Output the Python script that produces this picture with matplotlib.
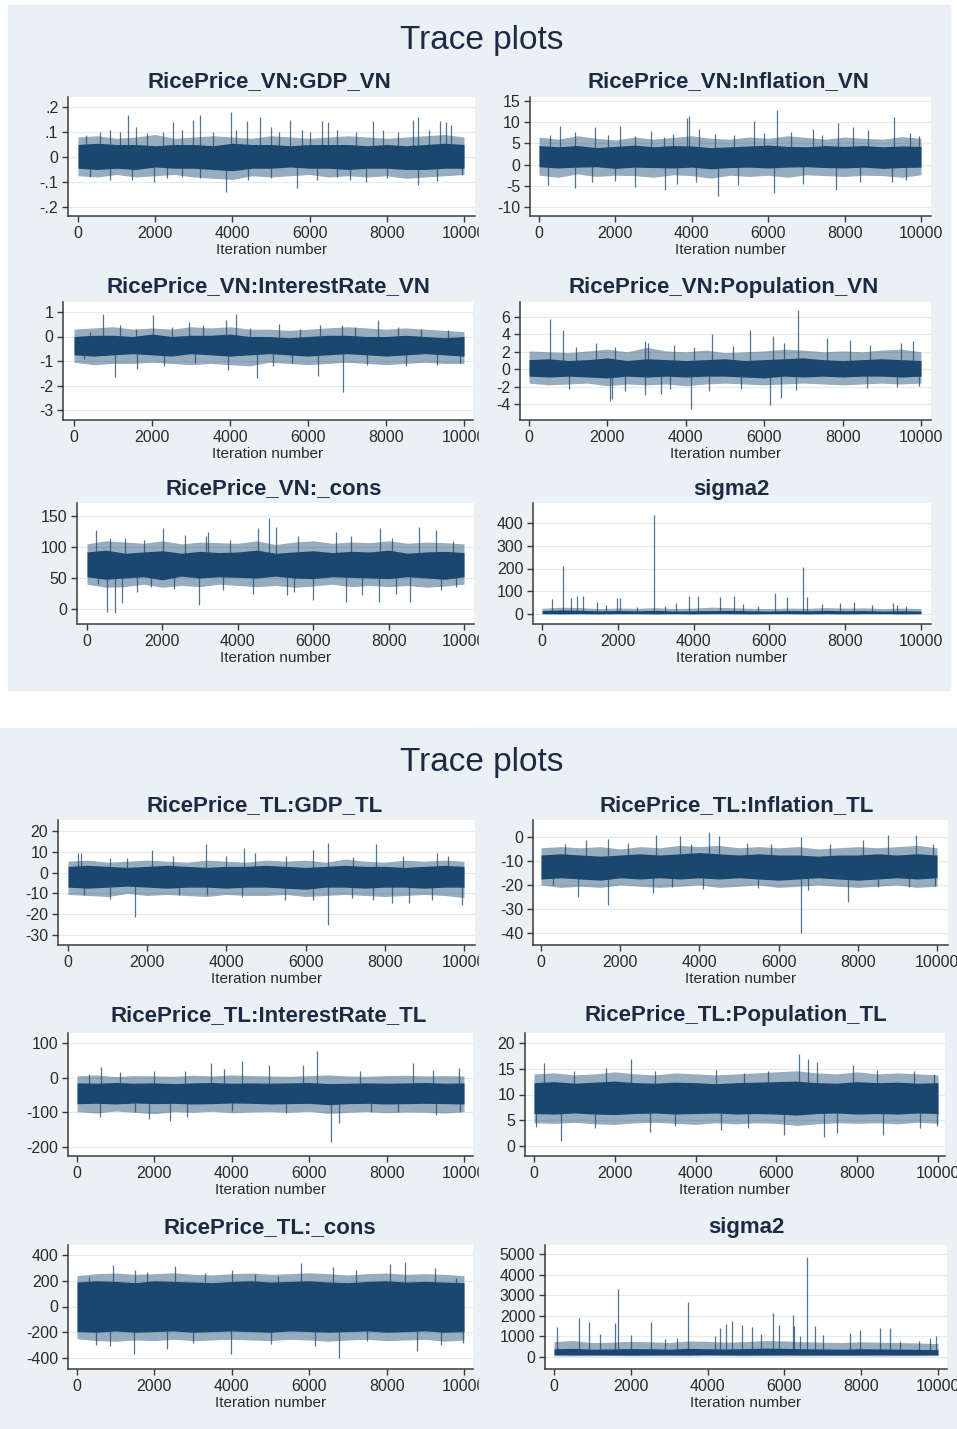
import numpy as np
import matplotlib
matplotlib.use("Agg")
import matplotlib.pyplot as plt
from matplotlib.patches import Rectangle

plt.rcParams['font.family'] = ['Liberation Sans', 'DejaVu Sans']

W, H = 957, 1429
NAVY = '#1a476f'
PANEL = '#eaf0f3'
TXT = '#1c2a44'

# ---------------- data ----------------
bin_iter = [0, 500, 1000, 1500, 2000, 2500, 3000, 3500, 4000, 4500, 5000,
            5500, 6000, 6500, 7000, 7500, 8000, 8500, 9000, 9500, 10000]
x_ticks = [0, 2000, 4000, 6000, 8000, 10000]
x_ticklabels = ['0', '2000', '4000', '6000', '8000', '10000']

titles = ['RicePrice_VN:GDP_VN', 'RicePrice_VN:Inflation_VN',
          'RicePrice_VN:InterestRate_VN', 'RicePrice_VN:Population_VN',
          'RicePrice_VN:_cons', 'sigma2',
          'RicePrice_TL:GDP_TL', 'RicePrice_TL:Inflation_TL',
          'RicePrice_TL:InterestRate_TL', 'RicePrice_TL:Population_TL',
          'RicePrice_TL:_cons', 'sigma2']

# 1 GDP_VN
gdp_vn_yt = [-0.2, -0.1, 0, 0.1, 0.2]
gdp_vn_yl = ['-.2', '-.1', '0', '.1', '.2']
gdp_vn_hi = [0.05, 0.055, 0.05, 0.05, 0.045, 0.05, 0.05, 0.045, 0.055, 0.05, 0.05,
             0.045, 0.05, 0.05, 0.05, 0.045, 0.05, 0.045, 0.05, 0.055, 0.05]
gdp_vn_lo = [-0.045, -0.05, -0.045, -0.05, -0.04, -0.045, -0.045, -0.05, -0.055, -0.045, -0.045,
             -0.04, -0.045, -0.045, -0.05, -0.045, -0.045, -0.05, -0.05, -0.045, -0.045]
gdp_vn_fhi = [0.08, 0.085, 0.075, 0.08, 0.09, 0.075, 0.08, 0.085, 0.08, 0.075, 0.085,
              0.08, 0.075, 0.08, 0.085, 0.08, 0.075, 0.08, 0.085, 0.09, 0.08]
gdp_vn_flo = [-0.075, -0.08, -0.07, -0.08, -0.075, -0.07, -0.08, -0.085, -0.09, -0.075, -0.08,
              -0.075, -0.07, -0.08, -0.075, -0.08, -0.075, -0.085, -0.08, -0.075, -0.07]
gdp_vn_sit = [200, 580, 840, 1100, 1290, 1500, 1800, 2200, 2470, 2700, 2970, 3150, 3500, 3965, 4100,
              4370, 4715, 5000, 5200, 5490, 5800, 6000, 6310, 6480, 6700, 7200, 7650, 7900, 8300,
              8680, 8810, 9100, 9370, 9540, 9670,
              300, 830, 1400, 1957, 2300, 2700, 3150, 3827, 4400, 5000, 5663, 6200, 6700, 7050,
              7474, 8000, 8810, 9300, 9950]
gdp_vn_sv = [0.09, 0.10, 0.11, 0.10, 0.17, 0.12, 0.095, 0.10, 0.14, 0.11, 0.15, 0.17, 0.10, 0.18, 0.11,
             0.145, 0.16, 0.12, 0.10, 0.15, 0.11, 0.10, 0.145, 0.14, 0.11, 0.10, 0.145, 0.11, 0.10,
             0.15, 0.16, 0.11, 0.145, 0.14, 0.13,
             -0.08, -0.093, -0.09, -0.10, -0.085, -0.08, -0.083, -0.14, -0.09, -0.085, -0.123, -0.09,
             -0.08, -0.09, -0.10, -0.085, -0.113, -0.095, -0.07]

# 2 Inflation_VN
inf_vn_yt = [-10, -5, 0, 5, 10, 15]
inf_vn_yl = ['-10', '-5', '0', '5', '10', '15']
inf_vn_hi = [4.5, 4.2, 4.5, 4.0, 4.3, 4.6, 4.2, 4.5, 4.4, 4.0, 4.2,
             4.4, 4.6, 4.3, 4.2, 4.5, 4.3, 4.5, 4.2, 4.4, 4.3]
inf_vn_lo = [-0.5, -0.8, -0.6, -0.5, -0.9, -0.6, -0.7, -0.8, -0.6, -1.0, -0.7,
             -0.6, -0.8, -0.6, -0.5, -0.7, -0.8, -0.6, -0.9, -0.7, -0.6]
inf_vn_fhi = [6.5, 6, 6.8, 6.2, 5.8, 6.5, 6, 6.4, 6.8, 6.2, 6,
              6.5, 6.2, 6.8, 6.4, 6, 6.5, 6.2, 6, 6.6, 6.2]
inf_vn_flo = [-2.5, -3, -2.2, -2.8, -2.5, -2.6, -3, -2.4, -2.6, -3.2, -2.5,
              -2.8, -2.5, -3, -2.4, -2.6, -2.8, -2.5, -2.6, -3, -2.4]
inf_vn_sit = [300, 540, 930, 1474, 1800, 2110, 2500, 2930, 3260, 3500, 3870, 3915, 4200, 4600, 5100,
              5640, 5900, 6226, 6600, 7185, 7400, 7840, 8230, 8600, 9295, 9700, 9950,
              237, 930, 1400, 2000, 2520, 3290, 3600, 4100, 4680, 5200, 6140, 6900, 7770, 8400,
              9250, 9600]
inf_vn_sv = [7, 9.1, 7.8, 8.9, 7, 9.1, 6.8, 8, 6.5, 7.2, 11.1, 11.5, 8.5, 7.2, 7.0,
             10.3, 7.5, 12.8, 7.8, 8.5, 7.0, 9.7, 8.9, 8.2, 11.3, 7.5, 6.8,
             -4.8, -5.6, -4.2, -3.8, -5.2, -6, -4.5, -4.0, -7.5, -4.8, -6.6, -4.5, -6, -4.2,
             -4, -3.6]

# 3 InterestRate_VN
int_vn_yt = [-3, -2, -1, 0, 1]
int_vn_yl = ['-3', '-2', '-1', '0', '1']
int_vn_hi = [0.0, 0.05, 0.05, 0.0, 0.1, 0.0, 0.05, 0.05, 0.1, 0.0, 0.0,
             -0.05, 0.0, 0.05, 0.05, 0.0, 0.0, 0.05, 0.0, -0.05, 0.0]
int_vn_lo = [-0.75, -0.8, -0.75, -0.7, -0.75, -0.8, -0.7, -0.75, -0.8, -0.75, -0.7,
             -0.75, -0.8, -0.75, -0.7, -0.75, -0.8, -0.75, -0.7, -0.75, -0.8]
int_vn_fhi = [0.3, 0.35, 0.4, 0.3, 0.35, 0.3, 0.4, 0.35, 0.4, 0.3, 0.3,
              0.25, 0.3, 0.35, 0.4, 0.35, 0.3, 0.35, 0.3, 0.25, 0.2]
int_vn_flo = [-1.05, -1.15, -1.1, -1.1, -1.05, -1.1, -1.15, -1.1, -1.15, -1.2, -1.05,
              -1.1, -1.15, -1.1, -1.05, -1.1, -1.15, -1.1, -1.05, -1.1, -1.1]
int_vn_sit = [400, 734, 1180, 1600, 2015, 2500, 2955, 3300, 3900, 4150, 4500, 5260, 5800, 6300,
              6880, 7200, 7790, 8300, 8900, 9600,
              250, 1050, 1620, 2300, 3100, 3940, 4705, 5100, 5600, 6260, 6900, 7500, 8500,
              9300, 9900]
int_vn_sv = [0.2, 0.93, 0.46, 0.3, 0.86, 0.4, 0.59, 0.45, 0.66, 0.93, 0.35, 0.52, 0.3, 0.45,
             0.46, 0.4, 0.66, 0.4, 0.3, 0.25,
             -0.9, -1.64, -1.33, -1.2, -1.1, -1.37, -1.71, -1.2, -1.1, -1.6, -2.26, -1.15, -1.2,
             -1.15, -1.1]

# 4 Population_VN
pop_vn_yt = [-4, -2, 0, 2, 4, 6]
pop_vn_yl = ['-4', '-2', '0', '2', '4', '6']
pop_vn_hi = [1.1, 1.2, 1.0, 1.1, 1.3, 1.0, 1.2, 1.1, 1.0, 1.1, 1.2,
             1.0, 1.1, 1.2, 1.3, 1.1, 1.0, 1.1, 1.2, 1.1, 1.0]
pop_vn_lo = [-0.8, -0.9, -0.8, -0.9, -1.0, -0.8, -0.9, -0.8, -0.9, -0.8, -0.8,
             -0.9, -1.0, -0.8, -0.9, -0.8, -0.9, -0.8, -0.8, -0.9, -0.8]
pop_vn_fhi = [2.1, 2.0, 1.9, 2.1, 2.3, 2.0, 2.5, 2.1, 2.0, 2.2, 1.9,
              2.0, 2.1, 2.3, 2.2, 2.0, 2.1, 2.0, 2.2, 2.3, 2.0]
pop_vn_flo = [-1.6, -1.8, -1.7, -1.6, -1.9, -1.7, -1.8, -1.7, -1.9, -1.7, -1.6,
              -1.7, -1.8, -1.7, -1.6, -1.7, -1.8, -1.7, -1.6, -1.7, -1.6]
pop_vn_sit = [536, 870, 1200, 1700, 2200, 2970, 3040, 3700, 4200, 4680, 5200, 5634, 6230, 6500,
              6870, 7590, 8180, 8700, 9500, 9800,
              1020, 2060, 2120, 2450, 2970, 3380, 3600, 4136, 4600, 5400, 6144, 6440, 6800, 8610,
              9400, 9950]
pop_vn_sv = [5.8, 4.5, 2.6, 3.0, 2.5, 3.2, 3.0, 2.8, 2.6, 4.0, 2.7, 4.5, 3.8, 3.0,
             6.8, 3.6, 3.4, 2.8, 3.0, 3.2,
             -2.3, -3.6, -3.4, -2.5, -3.0, -2.8, -2.3, -4.6, -2.5, -2.3, -4.1, -3.3, -2.4, -2.2,
             -2.0, -1.9]

# 5 _cons VN
con_vn_yt = [0, 50, 100, 150]
con_vn_yl = ['0', '50', '100', '150']
con_vn_hi = [92, 95, 90, 92, 94, 90, 93, 91, 92, 95, 90,
             92, 94, 91, 93, 92, 95, 90, 92, 93, 91]
con_vn_lo = [52, 48, 50, 52, 47, 53, 50, 52, 51, 50, 53,
             50, 49, 52, 51, 50, 49, 52, 50, 48, 52]
con_vn_fhi = [105, 110, 108, 106, 110, 105, 108, 107, 106, 110, 104,
              108, 110, 106, 108, 107, 110, 106, 108, 107, 105]
con_vn_flo = [40, 35, 36, 40, 35, 38, 36, 40, 38, 36, 38,
              35, 37, 40, 36, 38, 36, 38, 35, 37, 40]
con_vn_sit = [240, 600, 1000, 1500, 2005, 2600, 3150, 3200, 3800, 4540, 4830, 5000, 5600, 6600,
              7000, 7760, 8100, 8800, 9260, 9700,
              300, 521, 742, 936, 1320, 1700, 2300, 2976, 3600, 4400, 5300, 5500, 6000, 6880,
              7300, 7745, 8200, 8580, 9400, 9800]
con_vn_sv = [128, 115, 115, 112, 131, 120, 118, 124, 112, 130, 146, 132, 118, 124,
             118, 131, 115, 133, 128, 110,
             40, -5, -7, 10, 28, 35, 32, 7, 30, 25, 23, 28, 15, 12,
             22, 12, 25, 12, 30, 35]

# 6 sigma2 VN
s2_vn_yt = [0, 100, 200, 300, 400]
s2_vn_yl = ['0', '100', '200', '300', '400']
s2_vn_hi = [15, 18, 16, 14, 15, 14, 16, 13, 14, 15, 16,
            14, 13, 15, 14, 16, 14, 15, 13, 14, 13]
s2_vn_lo = [2, 1, 2, 1, 2, 2, 1, 2, 1, 2, 2,
            1, 2, 2, 1, 2, 1, 2, 2, 1, 2]
s2_vn_fhi = [25, 30, 28, 24, 26, 25, 28, 24, 26, 30, 28,
             25, 24, 26, 25, 28, 26, 27, 24, 26, 24]
s2_vn_flo = [0, 0, 0, 0, 0, 0, 0, 0, 0, 0, 0,
             0, 0, 0, 0, 0, 0, 0, 0, 0, 0]
s2_vn_sit = [264, 554, 765, 923, 1081, 1450, 1700, 1978, 2048, 2500, 2962, 3250, 3542, 3868,
             4105, 4700, 5072, 5300, 5700, 6153, 6460, 6883, 6988, 7400, 7867, 8236, 8700,
             9273, 9360, 9600]
s2_vn_sv = [65, 212, 69, 79, 81, 54, 40, 69, 69, 30, 437, 35, 50, 79,
            79, 74, 79, 45, 35, 91, 76, 206, 76, 45, 47, 54, 40,
            50, 40, 35]

# 7 GDP_TL
gdp_tl_yt = [-30, -20, -10, 0, 10, 20]
gdp_tl_yl = ['-30', '-20', '-10', '0', '10', '20']
gdp_tl_hi = [3, 3.5, 3, 2.5, 3, 3.5, 3, 2.5, 3, 3, 3.5,
             3, 2.5, 3, 3.5, 3, 3, 2.5, 3, 3.5, 3]
gdp_tl_lo = [-7, -7.5, -7, -6.5, -7, -7.5, -7, -7, -7.5, -7, -7,
             -7.5, -8, -7, -7, -7.5, -7, -7, -7.5, -7, -7]
gdp_tl_fhi = [5.5, 6, 5, 5.5, 6, 5.5, 5, 6, 5.5, 5, 6,
              5.5, 6, 5, 6.5, 5.5, 5, 6, 5.5, 6, 5.5]
gdp_tl_flo = [-10.5, -11, -11.5, -10, -11, -10.5, -11, -11.5, -10.5, -11, -11,
              -10.5, -11.5, -11, -10.5, -11, -11.5, -11, -10.5, -11, -12]
gdp_tl_sit = [250, 320, 1060, 1500, 2120, 2650, 3490, 4000, 4457, 4730, 5500, 6198, 6577, 7200,
              7770, 8470, 9310, 9600,
              400, 1050, 1682, 2800, 3500, 4400, 5480, 6198, 6577, 7170, 7700, 8170, 8600,
              9200, 9940]
gdp_tl_sv = [9.6, 9.6, 7, 7, 10.9, 8, 13.7, 8, 11.7, 9.3, 8, 10.9, 14.4, 7.5,
             13.7, 8, 9.6, 8,
             -11, -12.9, -21.2, -11, -11, -11.5, -13.2, -13.2, -25.2, -12, -13, -14.8, -14.5,
             -13, -15.6]

# 8 Inflation_TL
inf_tl_yt = [-40, -30, -20, -10, 0]
inf_tl_yl = ['-40', '-30', '-20', '-10', '0']
inf_tl_hi = [-7.5, -7, -7.5, -8, -7.5, -7, -7.5, -7, -6.5, -7, -7.5,
             -7, -7.5, -7.5, -8, -7.5, -7.5, -7, -7.5, -7, -7.5]
inf_tl_lo = [-17.5, -17, -17.5, -18, -17, -17.5, -17, -17.5, -17, -17.5, -17,
             -17.5, -18, -17.5, -17, -17.5, -18, -17.5, -17, -17.5, -17]
inf_tl_fhi = [-4.5, -4, -4.5, -4, -5, -4, -4.5, -3.5, -4, -3.5, -4.5,
              -4, -4.5, -4, -5, -4.5, -4, -4.5, -4, -3.5, -4.5]
inf_tl_flo = [-20, -21, -20.5, -21, -20, -20.5, -21, -20.5, -20, -21, -20.5,
              -20, -21, -20.5, -20, -20.5, -21, -20.5, -20, -21, -20.5]
inf_tl_sit = [600, 1135, 1700, 2200, 2900, 3510, 3800, 4247, 4500, 5200, 5800, 6577, 7300,
              8133, 8763, 9478, 9900,
              300, 925, 1700, 2830, 3300, 4100, 5480, 6577, 6740, 7754, 8500, 9300, 9950]
inf_tl_sv = [-3, -1.1, -0.7, -2.5, 1, 0.3, -3, 2, 0.5, -2.5, -3, 0, -3,
             -1.4, 0.7, 0.7, -3,
             -20, -24.8, -28.3, -23.4, -21, -21.5, -21.4, -40, -22.1, -26.9, -21, -21, -20.5]

# 9 InterestRate_TL
int_tl_yt = [-200, -100, 0, 100]
int_tl_yl = ['-200', '-100', '0', '100']
int_tl_hi = [-15, -16, -14, -16, -15, -17, -15, -14, -16, -15, -16,
             -15, -14, -17, -16, -15, -16, -15, -14, -16, -15]
int_tl_lo = [-75, -74, -76, -73, -75, -74, -76, -75, -73, -74, -76,
             -75, -74, -78, -75, -74, -76, -75, -74, -75, -76]
int_tl_fhi = [5, 8, 3, 6, 5, 4, 7, 5, 8, 6, 5,
              4, 6, 8, 5, 4, 6, 7, 5, 6, 5]
int_tl_flo = [-98, -102, -96, -100, -104, -98, -100, -97, -101, -99, -98,
              -100, -97, -103, -100, -98, -101, -99, -100, -102, -98]
int_tl_sit = [300, 630, 1100, 2000, 2800, 3470, 3800, 4262, 4950, 5840, 6208, 7300, 8680,
              9200, 9880,
              600, 1500, 1860, 2411, 2830, 4000, 5390, 6569, 6767, 7600, 8300, 9280, 9900]
int_tl_sv = [10, 32, 15, 20, 20, 42, 25, 47, 37, 37, 76, 20, 42,
             22, 27,
             -113, -100, -118, -125, -113, -95, -103, -186, -132, -100, -100, -108, -100]

# 10 Population_TL
pop_tl_yt = [0, 5, 10, 15, 20]
pop_tl_yl = ['0', '5', '10', '15', '20']
pop_tl_hi = [12.3, 12.5, 12.2, 12.4, 12.6, 12.3, 12.2, 12.4, 12.3, 12.1, 12.3,
             12.4, 12.5, 12.6, 12.3, 12.2, 12.5, 12.3, 12.4, 12.2, 12.3]
pop_tl_lo = [6.3, 6.2, 6.4, 6.2, 6.1, 6.3, 6.4, 6.2, 6.3, 6.4, 6.2,
             6.3, 6.2, 6.0, 6.3, 6.4, 6.2, 6.3, 6.2, 6.4, 6.3]
pop_tl_fhi = [14, 14.2, 13.8, 14, 14.4, 14, 13.8, 14.2, 14, 13.8, 14,
              14.2, 14.4, 14.6, 14.2, 14, 14.4, 14, 14.2, 14, 13.8]
pop_tl_flo = [4.5, 4.4, 4.6, 4.3, 4.2, 4.5, 4.6, 4.4, 4.2, 4.5, 4.3,
              4.5, 4.4, 4.0, 4.3, 4.5, 4.4, 4.5, 4.3, 4.6, 4.4]
pop_tl_sit = [250, 1000, 1790, 2412, 3000, 4500, 5200, 5800, 6567, 6790, 7010, 7900, 8500,
              9400, 9900,
              42, 677, 1500, 2880, 3500, 4640, 5300, 6195, 7186, 7500, 8648, 9560, 9980]
pop_tl_sv = [16.1, 14.5, 15.1, 16.9, 14.5, 14.8, 14.2, 14.5, 17.9, 16.8, 16.4, 15.8, 14.8,
             14.5, 14,
             3.6, 1, 3.5, 2.8, 3.8, 3.1, 3.5, 2.1, 1.7, 2.5, 2.1, 3.4, 3.8]

# 11 _cons TL
con_tl_yt = [-400, -200, 0, 200, 400]
con_tl_yl = ['-400', '-200', '0', '200', '400']
con_tl_hi = [190, 200, 195, 185, 200, 195, 190, 185, 195, 200, 190,
             195, 200, 190, 185, 195, 200, 190, 195, 190, 185]
con_tl_lo = [-195, -200, -190, -200, -195, -190, -200, -195, -190, -195, -200,
             -190, -195, -200, -195, -190, -200, -195, -190, -200, -195]
con_tl_fhi = [240, 255, 260, 250, 255, 262, 250, 245, 255, 260, 250,
              255, 262, 255, 245, 255, 260, 250, 255, 250, 240]
con_tl_flo = [-250, -265, -270, -260, -265, -255, -265, -260, -255, -260, -265,
              -255, -260, -270, -260, -255, -265, -260, -255, -270, -260]
con_tl_sit = [300, 930, 1500, 1800, 2520, 3300, 4000, 4600, 5200, 5794, 6610, 7220, 8075,
              8464, 9240, 9800,
              500, 850, 1472, 2320, 3000, 3986, 5000, 6140, 6767, 7500, 8782, 9400, 9970]
con_tl_sv = [230, 323, 280, 270, 315, 260, 280, 250, 240, 335, 310, 284, 328,
             348, 297, 220,
             -300, -310, -366, -330, -280, -366, -290, -305, -400, -270, -348, -300, -284]

# 12 sigma2 TL
s2_tl_yt = [0, 1000, 2000, 3000, 4000, 5000]
s2_tl_yl = ['0', '1000', '2000', '3000', '4000', '5000']
s2_tl_hi = [400, 420, 380, 390, 410, 400, 380, 420, 400, 390, 410,
            430, 420, 400, 390, 380, 400, 390, 380, 370, 360]
s2_tl_lo = [110, 100, 105, 100, 95, 100, 105, 100, 110, 100, 95,
            100, 105, 100, 100, 95, 100, 105, 100, 100, 110]
s2_tl_fhi = [750, 800, 700, 720, 760, 740, 700, 780, 760, 720, 750,
             800, 780, 740, 720, 700, 740, 720, 700, 680, 650]
s2_tl_flo = [60, 55, 60, 65, 55, 60, 60, 55, 65, 60, 55,
             60, 60, 55, 60, 65, 60, 55, 60, 60, 65]
s2_tl_sit = [87, 652, 921, 1200, 1590, 1677, 2000, 2520, 2900, 3200, 3485, 4200, 4310, 4481,
             4632, 4890, 5150, 5400, 5692, 5850, 6213, 6240, 6400, 6587, 6789, 6998, 7717,
             7978, 8500, 8760, 9000, 9500, 9800, 9950]
s2_tl_sv = [1451, 1887, 1677, 1100, 1645, 3306, 1050, 1677, 850, 900, 2694, 1000, 1403, 1597,
            1758, 1565, 1451, 1100, 2160, 1565, 2048, 1500, 1000, 4840, 1516, 1080, 1161,
            1323, 1403, 1403, 800, 800, 919, 1000]

series = [
    (gdp_vn_yt, gdp_vn_yl, gdp_vn_hi, gdp_vn_lo, gdp_vn_fhi, gdp_vn_flo, gdp_vn_sit, gdp_vn_sv),
    (inf_vn_yt, inf_vn_yl, inf_vn_hi, inf_vn_lo, inf_vn_fhi, inf_vn_flo, inf_vn_sit, inf_vn_sv),
    (int_vn_yt, int_vn_yl, int_vn_hi, int_vn_lo, int_vn_fhi, int_vn_flo, int_vn_sit, int_vn_sv),
    (pop_vn_yt, pop_vn_yl, pop_vn_hi, pop_vn_lo, pop_vn_fhi, pop_vn_flo, pop_vn_sit, pop_vn_sv),
    (con_vn_yt, con_vn_yl, con_vn_hi, con_vn_lo, con_vn_fhi, con_vn_flo, con_vn_sit, con_vn_sv),
    (s2_vn_yt, s2_vn_yl, s2_vn_hi, s2_vn_lo, s2_vn_fhi, s2_vn_flo, s2_vn_sit, s2_vn_sv),
    (gdp_tl_yt, gdp_tl_yl, gdp_tl_hi, gdp_tl_lo, gdp_tl_fhi, gdp_tl_flo, gdp_tl_sit, gdp_tl_sv),
    (inf_tl_yt, inf_tl_yl, inf_tl_hi, inf_tl_lo, inf_tl_fhi, inf_tl_flo, inf_tl_sit, inf_tl_sv),
    (int_tl_yt, int_tl_yl, int_tl_hi, int_tl_lo, int_tl_fhi, int_tl_flo, int_tl_sit, int_tl_sv),
    (pop_tl_yt, pop_tl_yl, pop_tl_hi, pop_tl_lo, pop_tl_fhi, pop_tl_flo, pop_tl_sit, pop_tl_sv),
    (con_tl_yt, con_tl_yl, con_tl_hi, con_tl_lo, con_tl_fhi, con_tl_flo, con_tl_sit, con_tl_sv),
    (s2_tl_yt, s2_tl_yl, s2_tl_hi, s2_tl_lo, s2_tl_fhi, s2_tl_flo, s2_tl_sit, s2_tl_sv),
]

# ---------------- layout (pixels) ----------------
# left, top, right, bottom, px of x=0, px of x=10000, (yval, ypx), (yval, ypx)
geom = [
    (68, 97, 475, 216, 78, 464, (0.2, 107), (-0.2, 207)),
    (530, 97, 931, 216, 539, 921, (15, 101), (-10, 207)),
    (63, 302, 473, 420, 74, 464, (1, 312), (-3, 410)),
    (520, 302, 931, 420, 529, 921, (6, 317), (-4, 404)),
    (77, 503, 474, 624, 87, 464, (150, 516), (0, 609)),
    (533, 503, 931, 624, 542, 921, (400, 523), (0, 614)),
    (58, 820, 475, 945, 68, 464, (20, 831), (-30, 935)),
    (533, 820, 948, 945, 541, 937, (0, 837), (-40, 933)),
    (68, 1033, 473, 1156, 77, 464, (100, 1043), (-200, 1147)),
    (525, 1033, 945, 1156, 534, 938, (20, 1043), (0, 1146)),
    (68, 1245, 473, 1369, 77, 464, (400, 1255), (-400, 1358)),
    (545, 1245, 947, 1369, 554, 938, (5000, 1254), (0, 1357)),
]
title_pos = [(269, 82), (728, 82), (268, 287), (724, 287), (274, 489), (731, 489),
             (265, 806), (737, 806), (269, 1016), (736, 1016), (270, 1228), (746, 1228)]

fig = plt.figure(figsize=(W / 100, H / 100), dpi=100)
fig.patch.set_facecolor('white')


def fx(px):
    return px / W


def fy(py):
    return 1 - py / H


# panel backgrounds
fig.add_artist(Rectangle((fx(8), fy(690)), fx(950) - fx(8), fy(5) - fy(690),
                         transform=fig.transFigure, color=PANEL, zorder=-5))
fig.add_artist(Rectangle((fx(0), fy(1429)), 1, fy(728) - fy(1429),
                         transform=fig.transFigure, color=PANEL, zorder=-5))
# right-column cells hide the overflow of the left column's "10000"
fig.add_artist(Rectangle((fx(479), fy(690)), fx(950) - fx(479), fy(5) - fy(690),
                         transform=fig.transFigure, color=PANEL, zorder=1.5))
fig.add_artist(Rectangle((fx(479), fy(1429)), 1 - fx(479), fy(728) - fy(1429),
                         transform=fig.transFigure, color=PANEL, zorder=1.5))

fig.text(0.5 + 3 / W, fy(40), 'Trace plots', ha='center', va='center',
         fontsize=24, color=TXT)
fig.text(0.5 + 3 / W, fy(763), 'Trace plots', ha='center', va='center',
         fontsize=24, color=TXT)

for i, (g, s) in enumerate(zip(geom, series)):
    L, T, R, B, x0, x1, (v1, p1), (v2, p2) = g
    yt, yl, hi, lo, fhi, flo, sit, sv = s
    ax = fig.add_axes([fx(L), fy(B), fx(R) - fx(L), fy(T) - fy(B)])
    ax.set_zorder(2 if i % 2 else 1)
    ax.set_facecolor('white')

    xs = (x1 - x0) / 10000.0
    ax.set_xlim(-(x0 - L) / xs, 10000 + (R - x1) / xs)
    ys = (p2 - p1) / (v1 - v2)
    ax.set_ylim(v2 - (B - p2) / ys, v1 + (p1 - T) / ys)

    # fuzzy outer part of the trace, dense core, then the isolated spikes
    ax.fill_between(bin_iter, flo, fhi, color=NAVY, alpha=0.45, lw=0, zorder=2)
    ax.fill_between(bin_iter, lo, hi, color=NAVY, lw=0, zorder=3)
    mid = (np.mean(hi) + np.mean(lo)) / 2.0
    ax.vlines(sit, mid, sv, color=NAVY, lw=0.9, alpha=0.75, zorder=3)

    ax.set_yticks(yt)
    ax.set_yticklabels(yl)
    ax.set_xticks(x_ticks)
    ax.set_xticklabels(x_ticklabels)
    for t in yt:
        ax.axhline(t, color='#e4ebef', lw=0.9, zorder=1)

    for sp in ['top', 'right']:
        ax.spines[sp].set_visible(False)
    for sp in ['left', 'bottom']:
        ax.spines[sp].set_color('#3a3a3a')
        ax.spines[sp].set_linewidth(1.1)
    ax.tick_params(axis='both', length=4, width=1.0, color='#3a3a3a',
                   labelsize=11.5, labelcolor='#2a2a2a')
    ax.tick_params(axis='x', pad=3.2)
    ax.tick_params(axis='y', pad=3.0)
    ax.set_xlabel('Iteration number', fontsize=11, color='#2a2a2a', labelpad=1.5)

    tx, ty = title_pos[i]
    fig.text(fx(tx), fy(ty), titles[i], ha='center', va='center',
             fontsize=16, fontweight='bold', color=TXT, zorder=3)

fig.savefig('out.png', dpi=100, facecolor='white')
